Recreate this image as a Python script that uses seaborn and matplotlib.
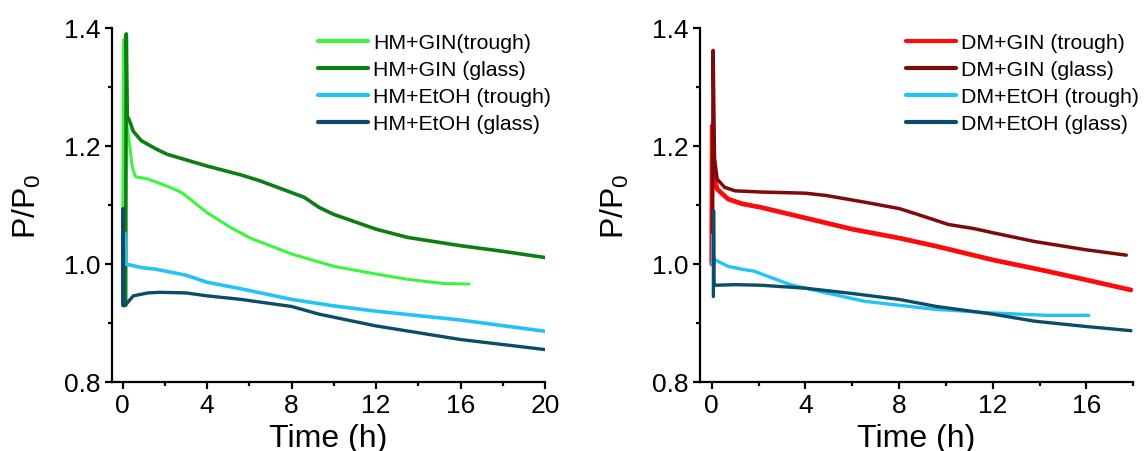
import numpy as np
import pandas as pd
import matplotlib
matplotlib.use("Agg")
import matplotlib.pyplot as plt
from matplotlib.ticker import MultipleLocator, FormatStrFormatter
import seaborn as sns

# ---------------- data ----------------
# Left panel (HM)
hm_gin_trough_t = [0.0, 0.04, 0.10, 0.30, 0.45, 0.60, 1.2, 2.1, 2.8, 3.4, 4.0, 5.1, 6.1, 8.0, 10.0, 12.0, 13.5, 15.2, 16.4]
hm_gin_trough_v = [1.00, 1.38, 1.26, 1.21, 1.165, 1.148, 1.144, 1.132, 1.121, 1.104, 1.087, 1.062, 1.043, 1.017, 0.996, 0.983, 0.974, 0.967, 0.966]

hm_gin_glass_t = [0.14, 0.17, 0.22, 0.30, 0.50, 0.88, 1.58, 2.1, 4.0, 5.6, 6.5, 8.0, 8.6, 9.3, 10.0, 12.0, 13.5, 16.0, 17.9, 20.0]
hm_gin_glass_v = [0.93, 1.39, 1.25, 1.245, 1.225, 1.209, 1.195, 1.186, 1.166, 1.151, 1.141, 1.121, 1.113, 1.096, 1.084, 1.059, 1.045, 1.031, 1.022, 1.011]

hm_etoh_trough_t = [0.0, 0.07, 0.09, 0.12, 0.2, 0.88, 1.6, 3.0, 4.0, 5.6, 8.0, 10.0, 12.0, 16.0, 20.0]
hm_etoh_trough_v = [1.0, 1.0, 1.053, 1.0, 0.9995, 0.994, 0.991, 0.981, 0.969, 0.958, 0.940, 0.929, 0.920, 0.905, 0.886]

hm_etoh_glass_t = [0.0, 0.02, 0.05, 0.17, 0.5, 1.2, 1.75, 3.0, 4.0, 5.6, 8.0, 9.3, 12.0, 16.0, 20.0]
hm_etoh_glass_v = [0.93, 1.094, 0.929, 0.932, 0.946, 0.951, 0.952, 0.951, 0.946, 0.940, 0.928, 0.915, 0.895, 0.872, 0.855]

# Right panel (DM)
dm_gin_trough_t = [0.0, 0.02, 0.08, 0.23, 0.7, 1.3, 2.1, 4.0, 6.0, 8.0, 9.6, 12.0, 14.3, 16.0, 17.9]
dm_gin_trough_v = [1.0, 1.234, 1.15, 1.127, 1.110, 1.102, 1.096, 1.078, 1.059, 1.044, 1.030, 1.007, 0.988, 0.973, 0.956]

dm_gin_glass_t = [0.03, 0.06, 0.12, 0.23, 0.55, 1.0, 2.1, 4.0, 4.9, 6.5, 8.0, 8.8, 10.1, 11.2, 12.0, 13.8, 16.0, 17.7]
dm_gin_glass_v = [1.05, 1.362, 1.18, 1.144, 1.130, 1.124, 1.122, 1.120, 1.116, 1.105, 1.094, 1.084, 1.067, 1.060, 1.053, 1.038, 1.024, 1.015]

dm_etoh_trough_t = [0.0, 0.03, 0.05, 0.08, 0.15, 0.7, 1.3, 1.8, 2.4, 3.35, 4.0, 4.9, 6.5, 8.0, 9.6, 12.0, 14.3, 16.1]
dm_etoh_trough_v = [1.0, 1.0, 1.05, 1.0, 1.007, 0.996, 0.991, 0.988, 0.979, 0.965, 0.959, 0.951, 0.937, 0.930, 0.923, 0.917, 0.913, 0.913]

dm_etoh_glass_t = [0.07, 0.08, 0.10, 0.15, 1.0, 2.1, 4.0, 6.0, 8.0, 9.6, 12.0, 13.8, 16.0, 17.9]
dm_etoh_glass_v = [0.945, 1.09, 0.964, 0.964, 0.965, 0.964, 0.959, 0.950, 0.940, 0.928, 0.915, 0.903, 0.894, 0.887]

left_labels = ["HM+GIN(trough)", "HM+GIN (glass)", "HM+EtOH (trough)", "HM+EtOH (glass)"]
right_labels = ["DM+GIN (trough)", "DM+GIN (glass)", "DM+EtOH (trough)", "DM+EtOH (glass)"]
left_colors = ["#3CF53C", "#0E7D12", "#22C3FA", "#0B4C66"]
right_colors = ["#FF0A0A", "#7E0A0A", "#22C3FA", "#0B4C66"]

left_series = [(hm_gin_trough_t, hm_gin_trough_v), (hm_gin_glass_t, hm_gin_glass_v),
               (hm_etoh_trough_t, hm_etoh_trough_v), (hm_etoh_glass_t, hm_etoh_glass_v)]
right_series = [(dm_gin_trough_t, dm_gin_trough_v), (dm_gin_glass_t, dm_gin_glass_v),
                (dm_etoh_trough_t, dm_etoh_trough_v), (dm_etoh_glass_t, dm_etoh_glass_v)]

# ---------------- style ----------------
sns.set_style("ticks")
plt.rcParams['font.family'] = ['Liberation Sans', 'DejaVu Sans']
plt.rcParams['mathtext.fontset'] = 'custom'
plt.rcParams['mathtext.rm'] = 'Liberation Sans'
plt.rcParams['mathtext.it'] = 'Liberation Sans'
for key in ['text.color', 'axes.labelcolor', 'xtick.color', 'ytick.color', 'axes.edgecolor']:
    plt.rcParams[key] = 'black'

W, H = 1145, 452
fig = plt.figure(figsize=(W / 100, H / 100), dpi=100)

ax_l = fig.add_axes([111.7 / W, 1 - 383 / H, (545 - 111.7) / W, (383 - 29) / H])
ax_r = fig.add_axes([700 / W, 1 - 383 / H, (1133.3 - 700) / W, (383 - 29) / H])


def draw(ax, series, labels, colors, lws, xlim, legend_anchor):
    for (t, v), lab, col, lw in zip(series, labels, colors, lws):
        df = pd.DataFrame({"t": t, "v": v})
        sns.lineplot(data=df, x="t", y="v", ax=ax, color=col, linewidth=lw,
                     label=lab, estimator=None, sort=False)
    ax.set_xlim(*xlim)
    ax.set_ylim(0.8, 1.4)
    ax.xaxis.set_major_locator(MultipleLocator(4))
    ax.xaxis.set_minor_locator(MultipleLocator(2))
    ax.yaxis.set_major_locator(MultipleLocator(0.2))
    ax.yaxis.set_minor_locator(MultipleLocator(0.1))
    ax.yaxis.set_major_formatter(FormatStrFormatter('%.1f'))
    for s in ["top", "right"]:
        ax.spines[s].set_visible(False)
    for s in ["left", "bottom"]:
        ax.spines[s].set_linewidth(1.6)
        ax.spines[s].set_color("black")
    ax.tick_params(which="major", direction="out", length=5, width=1.6,
                   labelsize=19, pad=3, colors="black")
    ax.tick_params(which="minor", direction="out", length=3, width=1.6, colors="black")
    ax.set_xlabel("Time (h)", fontsize=23, labelpad=4, color="black")
    ax.set_ylabel(r"P/P$_\mathregular{0}$", fontsize=23, labelpad=15, color="black")
    leg = ax.legend(loc="upper left", bbox_to_anchor=legend_anchor,
                    bbox_transform=fig.transFigure, frameon=False,
                    fontsize=15.3, handlelength=2.35, handletextpad=0.25,
                    labelspacing=0.38, borderpad=0, borderaxespad=0,
                    labelcolor="black")
    for line in leg.get_lines():
        line.set_linewidth(3)


draw(ax_l, left_series, left_labels, left_colors, [2.2, 2.6, 2.6, 2.4],
     (-0.52, 20), (317.7 / W, 1 - 34 / H))
draw(ax_r, right_series, right_labels, right_colors, [3.4, 2.5, 2.4, 2.4],
     (-0.5, 18.0), (905.7 / W, 1 - 34 / H))

fig.savefig("out.png", dpi=100)
